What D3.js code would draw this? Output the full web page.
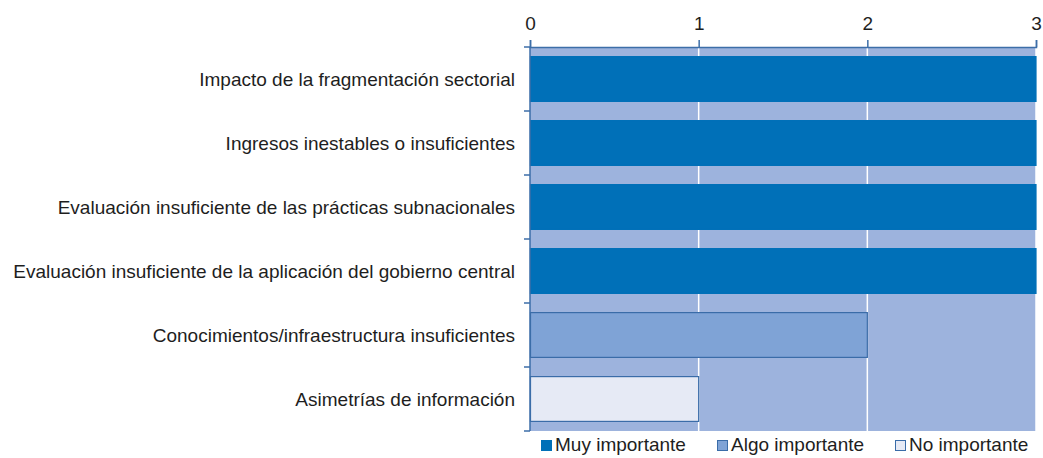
<!DOCTYPE html>
<html>
<head>
<meta charset="utf-8">
<script src="https://cdn.jsdelivr.net/npm/d3@7"></script>
<style>
	body { margin: 0; background: #fff; }
	text { font-family: "Liberation Sans", Arial, sans-serif; fill: #1e1e1e; }
</style>
</head>
<body>
<div id="chart"></div>
<script>
// Data
const categories = [
	"Impacto de la fragmentación sectorial",
	"Ingresos inestables o insuficientes",
	"Evaluación insuficiente de las prácticas subnacionales",
	"Evaluación insuficiente de la aplicación del gobierno central",
	"Conocimientos/infraestructura insuficientes",
	"Asimetrías de información"
];
const values = [3, 3, 3, 3, 2, 1];
const levels = ["Muy importante", "Muy importante", "Muy importante", "Muy importante", "Algo importante", "No importante"];
const legendLabels = ["Muy importante", "Algo importante", "No importante"];
const xTicks = [0, 1, 2, 3];

// Styles per level
const fillColor = {"Muy importante": "#0070b8", "Algo importante": "#7fa3d6", "No importante": "#e6eaf5"};
const strokeColor = {"Muy importante": "#0070b8", "Algo importante": "#3a6ca8", "No importante": "#3a6ca8"};

// Dimensions and margins
const W = 1043, H = 458;
const margin = {top: 47, right: 7, bottom: 27, left: 530};
const width = W - margin.left - margin.right;
const height = H - margin.top - margin.bottom;
const fontSize = "19px";

const svg = d3.select("#chart").append("svg")
	.attr("width", W)
	.attr("height", H);
const g = svg.append("g")
	.attr("transform", "translate(" + margin.left + "," + margin.top + ")");

// Scales
const x = d3.scaleLinear().domain([0, 3]).range([0, width]);
const y = d3.scaleBand().domain(categories).range([0, height]).paddingInner(0.3).paddingOuter(0.15);

// Plot background
g.append("rect")
	.attr("width", width)
	.attr("height", height)
	.attr("fill", "#9db3dd");

// Gridlines
g.selectAll(".grid")
	.data(xTicks.slice(1))
	.enter().append("line")
	.attr("x1", d => x(d)).attr("x2", d => x(d))
	.attr("y1", 0).attr("y2", height)
	.attr("stroke", "#fff")
	.attr("stroke-width", 1.5);

// Bars
g.selectAll(".bar")
	.data(categories)
	.enter().append("rect")
	.attr("x", 0.5)
	.attr("y", d => y(d))
	.attr("width", (d, i) => x(values[i]) - 0.5)
	.attr("height", y.bandwidth())
	.attr("fill", (d, i) => fillColor[levels[i]])
	.attr("stroke", (d, i) => strokeColor[levels[i]])
	.attr("stroke-width", 1.2);

// Top axis
const xAxis = g.append("g")
	.call(d3.axisTop(x).tickValues(xTicks).tickSize(7).tickPadding(10).tickFormat(d3.format("d")));
xAxis.select(".domain").attr("stroke", "#3c6ea8").attr("stroke-width", 1.5);
xAxis.selectAll(".tick line").attr("stroke", "#3c6ea8").attr("stroke-width", 1.5);
xAxis.selectAll("text").style("font-size", fontSize).attr("fill", "#1e1e1e");

// Left axis line with ticks at category boundaries
const step = height / categories.length;
g.append("line")
	.attr("x1", 0).attr("x2", 0)
	.attr("y1", 0).attr("y2", height)
	.attr("stroke", "#3c6ea8")
	.attr("stroke-width", 1.5);
g.selectAll(".ytick")
	.data(d3.range(categories.length + 1))
	.enter().append("line")
	.attr("x1", -6).attr("x2", 0)
	.attr("y1", d => d * step).attr("y2", d => d * step)
	.attr("stroke", "#3c6ea8")
	.attr("stroke-width", 1.5);

// Category labels
g.selectAll(".label")
	.data(categories)
	.enter().append("text")
	.attr("x", -15)
	.attr("y", d => y(d) + y.bandwidth() / 2)
	.attr("dy", "0.35em")
	.style("text-anchor", "end")
	.style("font-size", fontSize)
	.text(d => d);

// Legend
const legendX = [541, 717, 895];
const legend = svg.selectAll(".legend")
	.data(legendLabels)
	.enter().append("g")
	.attr("transform", (d, i) => "translate(" + legendX[i] + "," + 440 + ")");
legend.append("rect")
	.attr("x", 0.5).attr("y", 0.5)
	.attr("width", 10).attr("height", 10)
	.attr("fill", d => fillColor[d])
	.attr("stroke", d => strokeColor[d]);
legend.append("text")
	.attr("x", 14)
	.attr("y", 11)
	.style("font-size", fontSize)
	.text(d => d);
</script>
</body>
</html>
